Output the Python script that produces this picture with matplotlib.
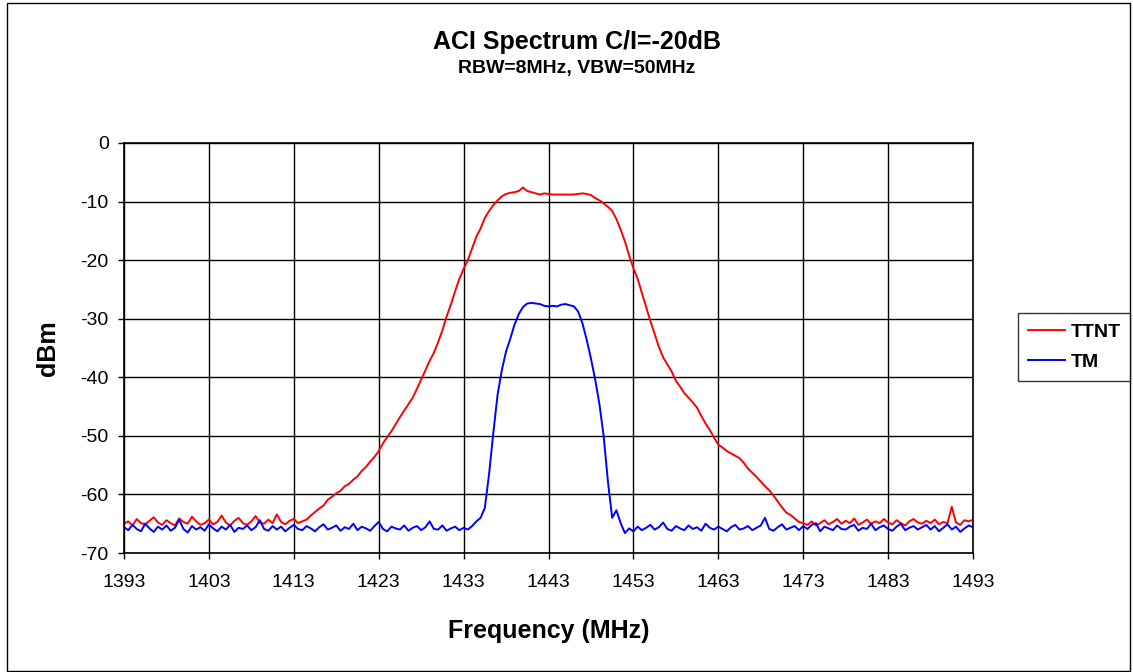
import numpy as np
import matplotlib
matplotlib.use("Agg")
import matplotlib.pyplot as plt
from matplotlib.patches import Rectangle

plt.rcParams['font.family'] = ['Liberation Sans', 'DejaVu Sans']
plt.rcParams['axes.unicode_minus'] = False

# sweep: 1393 .. 1493 MHz, 0.5 MHz step (201 points)
f_start = 1393.0
f_step = 0.5

# TTNT trace (dBm), 10 values per row = 5 MHz per row
ttnt_dbm = [
    -65.0, -64.6, -65.3, -64.2, -64.9, -65.1, -64.5, -63.9, -64.8, -65.2,   # 1393
    -64.4, -64.9, -65.3, -64.1, -64.7, -65.0, -63.8, -64.6, -65.2, -64.9,   # 1398
    -64.3, -65.1, -64.7, -63.6, -64.8, -65.3, -64.5, -64.0, -64.9, -65.2,   # 1403
    -64.6, -63.7, -64.8, -65.0, -64.3, -64.9, -63.4, -64.7, -65.1, -64.5,   # 1408
    -64.2, -64.9, -64.6, -64.3, -63.6, -63.0, -62.4, -61.9, -60.9, -60.4,   # 1413
    -59.8, -59.4, -58.6, -58.2, -57.5, -56.9, -56.0, -55.3, -54.4, -53.6,   # 1418
    -52.6, -51.3, -50.2, -49.2, -48.0, -46.8, -45.7, -44.6, -43.5, -42.0,   # 1423
    -40.4, -38.8, -37.2, -35.8, -34.0, -32.0, -29.6, -27.6, -25.3, -23.2,   # 1428
    -21.5, -20.0, -18.0, -16.0, -14.6, -12.8, -11.6, -10.6, -9.8, -9.1,     # 1433
    -8.7, -8.5, -8.4, -8.2, -7.6, -8.2, -8.4, -8.6, -8.8, -8.6,             # 1438
    -8.7, -8.8, -8.8, -8.8, -8.8, -8.8, -8.8, -8.7, -8.6, -8.7,             # 1443
    -8.9, -9.4, -9.8, -10.3, -10.9, -11.6, -13.0, -14.8, -16.8, -19.2,      # 1448
    -21.4, -23.2, -25.6, -28.0, -30.4, -32.6, -34.8, -36.6, -37.8, -39.0,   # 1453
    -40.6, -41.6, -42.7, -43.5, -44.3, -45.2, -46.6, -47.9, -49.0, -50.3,   # 1458
    -51.5, -52.0, -52.6, -53.0, -53.4, -53.8, -54.6, -55.6, -56.3, -57.0,   # 1463
    -57.8, -58.6, -59.3, -60.2, -61.2, -62.2, -63.1, -63.5, -64.1, -64.7,   # 1468
    -64.9, -65.2, -64.6, -65.3, -64.9, -64.4, -65.1, -64.7, -64.2, -65.0,   # 1473
    -64.5, -64.9, -64.1, -65.2, -64.8, -64.3, -65.0, -64.6, -64.9, -64.2,   # 1478
    -64.8, -65.1, -64.4, -64.9, -65.3, -64.6, -64.2, -64.8, -65.0, -64.5,   # 1483
    -64.9, -64.3, -65.1, -64.7, -64.9, -62.1, -64.8, -65.2, -64.4, -64.6,   # 1488
    -64.3,                                                                  # 1493
]

# TM trace (dBm)
tm_dbm = [
    -65.6, -66.1, -65.2, -65.9, -66.3, -65.0, -65.8, -66.4, -65.5, -66.0,   # 1393
    -65.3, -66.2, -65.7, -64.3, -65.9, -66.5, -65.4, -66.0, -65.6, -66.2,   # 1398
    -65.1, -65.8, -66.3, -65.5, -66.0, -65.2, -66.4, -65.7, -65.9, -65.3,   # 1403
    -66.1, -65.6, -64.4, -65.9, -66.2, -65.4, -66.0, -65.5, -66.3, -65.7,   # 1408
    -65.2, -65.9, -66.1, -65.4, -65.8, -66.3, -65.6, -65.1, -66.0, -65.7,   # 1413
    -65.3, -66.2, -65.6, -65.9, -65.0, -66.1, -65.5, -65.8, -66.2, -65.4,   # 1418
    -64.7, -65.9, -66.3, -65.5, -65.8, -66.0, -65.3, -66.2, -65.7, -65.4,   # 1423
    -66.1, -65.6, -64.6, -65.9, -66.0, -65.3, -66.2, -65.8, -65.5, -66.1,   # 1428
    -65.7, -66.0, -65.4, -64.6, -64.0, -62.3, -56.5, -49.5, -43.0, -38.8,   # 1433
    -35.6, -33.4, -31.0, -29.2, -28.0, -27.4, -27.3, -27.4, -27.5, -27.8,   # 1438
    -27.9, -27.8, -27.9, -27.6, -27.5, -27.7, -27.9, -28.8, -30.8, -33.6,   # 1443
    -36.8, -40.4, -44.6, -50.1, -57.8, -64.0, -62.7, -64.9, -66.6, -65.8,   # 1448
    -66.3, -65.5, -66.1, -65.7, -65.2, -66.0, -65.6, -64.8, -65.9, -66.2,   # 1453
    -65.4, -65.8, -66.1, -65.3, -65.9, -65.6, -66.2, -65.0, -65.7, -66.0,   # 1458
    -65.5, -65.9, -66.3, -65.6, -65.2, -66.0, -65.8, -65.4, -66.1, -65.7,   # 1463
    -65.3, -64.0, -65.9, -66.2, -65.6, -65.1, -66.0, -65.7, -65.4, -66.1,   # 1468
    -65.4, -65.9, -65.2, -64.9, -66.3, -65.5, -65.8, -66.1, -65.3, -65.9,   # 1473
    -66.0, -65.5, -65.2, -66.2, -65.7, -65.9, -65.0, -66.1, -65.6, -65.3,   # 1478
    -65.9, -66.2, -65.5, -65.0, -66.1, -65.7, -65.4, -66.0, -65.6, -65.2,   # 1483
    -66.0, -65.4, -66.3, -65.7, -65.1, -66.0, -65.5, -66.4, -65.8, -65.3,   # 1488
    -65.6,                                                                  # 1493
]

x_ticks = [1393, 1403, 1413, 1423, 1433, 1443, 1453, 1463, 1473, 1483, 1493]
y_ticks = [-70, -60, -50, -40, -30, -20, -10, 0]

freq = f_start + f_step * np.arange(len(ttnt_dbm))

W, H = 1133, 672
fig = plt.figure(figsize=(W / 100, H / 100), dpi=100)
ax = fig.add_axes([124 / W, 1 - 553 / H, (973 - 124) / W, (553 - 143) / H])

ax.plot(freq, ttnt_dbm, color='#ff0000', lw=1.4, label='TTNT')
ax.plot(freq, tm_dbm, color='#0000ff', lw=1.4, label='TM')

ax.set_xlim(1393, 1493)
ax.set_ylim(-70, 0)
ax.set_xticks(x_ticks)
ax.set_yticks(y_ticks)
ax.grid(True, color='black', lw=1.0)
ax.set_axisbelow(True)
for s in ax.spines.values():
    s.set_color('black')
    s.set_linewidth(1.2)
ax.tick_params(axis='both', direction='out', length=4, width=1, colors='black', labelsize=14)
ax.tick_params(axis='x', pad=11)
ax.tick_params(axis='y', pad=7)

ax.set_xlabel('Frequency (MHz)', fontsize=18, fontweight='bold', va='center')
ax.xaxis.set_label_coords(0.5, (553 - 631) / 410)
ax.set_ylabel('dBm', fontsize=18, fontweight='bold', va='center')
ax.yaxis.set_label_coords((48 - 124) / 849, 0.5)

fig.text(577 / W, 1 - 42 / H, 'ACI Spectrum C/I=-20dB', fontsize=18, fontweight='bold',
         ha='center', va='center')
fig.text(577 / W, 1 - 69 / H, 'RBW=8MHz, VBW=50MHz', fontsize=14, fontweight='bold',
         ha='center', va='center')

leg = fig.legend(loc='center left', bbox_to_anchor=(1018 / W, 1 - 347 / H),
                 prop={'weight': 'bold', 'size': 14}, frameon=True,
                 fancybox=False, handlelength=1.9, handletextpad=0.3,
                 borderpad=0.5, labelspacing=0.65, borderaxespad=0)
leg.get_frame().set_edgecolor('black')
leg.get_frame().set_linewidth(1.0)

# outer chart border
fig.patches.append(Rectangle((7 / W, 1.5 / H), (1130 - 7) / W, (670 - 2) / H,
                             transform=fig.transFigure, fill=False,
                             edgecolor='black', lw=1.0))

fig.savefig('out.png', dpi=100)
